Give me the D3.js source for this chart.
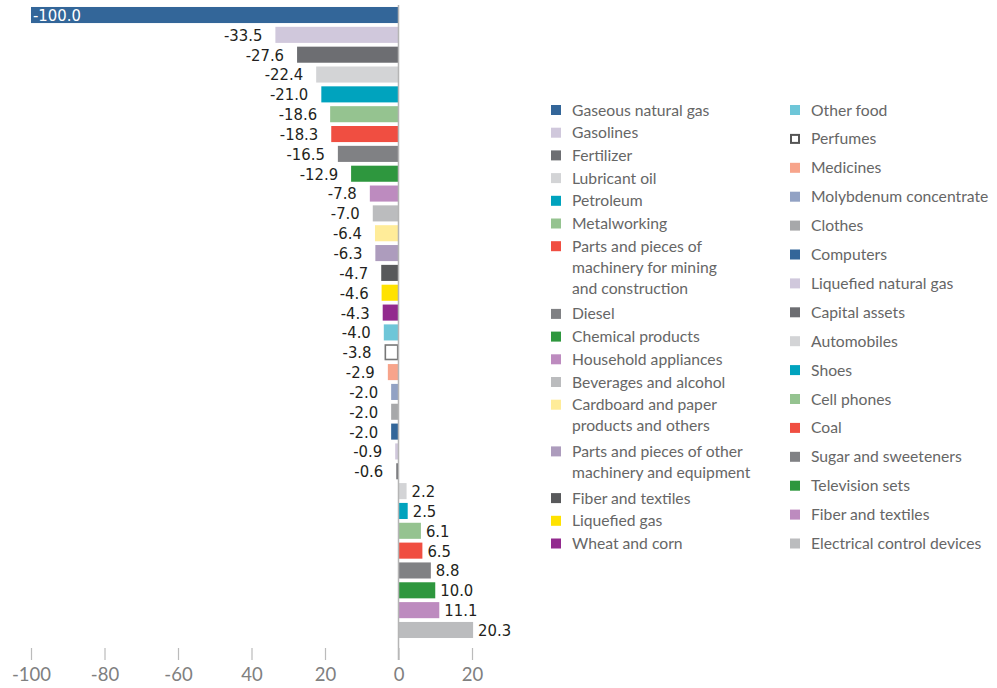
<!DOCTYPE html>
<html><head><meta charset="utf-8">
<script src="https://cdn.jsdelivr.net/npm/d3@7"></script>
<style>body{margin:0;background:#fff}</style>
</head><body>
<svg id="c" width="997" height="688"></svg>
<script>
const categories = ["Gaseous natural gas","Gasolines","Fertilizer","Lubricant oil","Petroleum","Metalworking",
 "Parts and pieces of machinery for mining and construction","Diesel","Chemical products","Household appliances",
 "Beverages and alcohol","Cardboard and paper products and others","Parts and pieces of other machinery and equipment",
 "Fiber and textiles","Liquefied gas","Wheat and corn","Other food","Perfumes","Medicines","Molybdenum concentrate",
 "Clothes","Computers","Liquefied natural gas","Capital assets","Automobiles","Shoes","Cell phones","Coal",
 "Sugar and sweeteners","Television sets","Fiber and textiles","Electrical control devices"];
const values = [-100.0,-33.5,-27.6,-22.4,-21.0,-18.6,-18.3,-16.5,-12.9,-7.8,-7.0,-6.4,-6.3,-4.7,-4.6,-4.3,-4.0,-3.8,-2.9,-2.0,-2.0,-2.0,-0.9,-0.6,2.2,2.5,6.1,6.5,8.8,10.0,11.1,20.3];
const colors = ["#336699","#d0c8dc","#6d6e72","#d3d4d6","#00a3be","#95c390","#f04e41","#808184","#2e973e","#bd8bbf",
 "#bbbcbe","#ffec99","#ad9cbd","#58595b","#ffe200","#922a8e","#6ec6d8","#ffffff","#f7a48b","#92a2c4",
 "#a7a8aa","#336699","#d0c8dc","#6d6e72","#d3d4d6","#00a3be","#95c390","#f04e41","#808184","#2e973e","#bd8bbf","#bbbcbe"];
const legendLines = [["Gaseous natural gas"],["Gasolines"],["Fertilizer"],["Lubricant oil"],["Petroleum"],["Metalworking"],
 ["Parts and pieces of","machinery for mining","and construction"],["Diesel"],["Chemical products"],["Household appliances"],
 ["Beverages and alcohol"],["Cardboard and paper","products and others"],["Parts and pieces of other","machinery and equipment"],
 ["Fiber and textiles"],["Liquefied gas"],["Wheat and corn"],["Other food"],["Perfumes"],["Medicines"],["Molybdenum concentrate"],
 ["Clothes"],["Computers"],["Liquefied natural gas"],["Capital assets"],["Automobiles"],["Shoes"],["Cell phones"],["Coal"],
 ["Sugar and sweeteners"],["Television sets"],["Fiber and textiles"],["Electrical control devices"]];
const tickValues = [-100,-80,-60,-40,-20,0,20];
const tickLabels = ["-100","-80","-60","40","20","0","20"];

const svg = d3.select("#c");
const x = d3.scaleLinear().domain([-100, 20]).range([31, 472]);
const y = d3.scaleBand().domain(d3.range(values.length)).range([5, 640]).paddingInner(0.19).paddingOuter(0.1);
const isHollow = i => colors[i] === "#ffffff";

// bars
svg.append("g").selectAll("rect").data(values).join("rect")
  .attr("x", (d, i) => x(Math.min(0, d)) + (isHollow(i) ? 0.8 : 0))
  .attr("y", (d, i) => y(i) + (isHollow(i) ? 0.8 : 0))
  .attr("width", (d, i) => Math.abs(x(d) - x(0)) - (isHollow(i) ? 1.6 : 0))
  .attr("height", (d, i) => y.bandwidth() - (isHollow(i) ? 1.6 : 0))
  .attr("fill", (d, i) => colors[i])
  .attr("stroke", (d, i) => isHollow(i) ? "#777" : "none")
  .attr("stroke-width", 1.6);

// zero line
svg.append("line").attr("x1", x(0)).attr("x2", x(0)).attr("y1", 5).attr("y2", 660)
  .attr("stroke", "#b5b5b5").attr("stroke-width", 1.5);

// value labels
svg.append("g").selectAll("text").data(values).join("text")
  .attr("x", (d, i) => i === 0 ? x(d) + 2 : (d < 0 ? x(d) - 13 : x(d) + 5))
  .attr("y", (d, i) => y(i) + y.bandwidth() / 2)
  .attr("dy", "0.36em")
  .attr("text-anchor", (d, i) => i === 0 ? "start" : (d < 0 ? "end" : "start"))
  .attr("fill", (d, i) => i === 0 ? "#ffffff" : "#231f20")
  .style("font-family", "'DejaVu Sans Condensed', 'DejaVu Sans', sans-serif")
  .style("font-size", "16.5px")
  .text(d => d.toFixed(1));

// axis
const axis = d3.axisBottom(x).tickValues(tickValues).tickSize(12).tickPadding(8)
  .tickFormat((d, i) => tickLabels[i]);
const ag = svg.append("g").attr("transform", "translate(0,648)").call(axis);
ag.select(".domain").remove();
ag.selectAll(".tick line").attr("stroke", "#bbbbbb").attr("stroke-width", 1.2);
ag.selectAll(".tick text").attr("fill", "#808080")
  .style("font-family", "Lato, 'Open Sans', sans-serif").style("font-size", "18.5px");

// legend
const leg = svg.append("g").style("font-family", "Lato, 'Open Sans', sans-serif").style("font-size", "15.7px");
const half = 16;
let yy = 110;
const pos = [];
for (let i = 0; i < half; i++) {
  pos.push([551, yy]);
  const n = legendLines[i].length;
  yy += (n - 1) * 21 + 22.7 + (n > 1 ? 3 : 0);
}
const end1 = pos[half - 1][1];
const step2 = (end1 - 110) / (half - 1);
for (let i = half; i < categories.length; i++) pos.push([790, 110 + (i - half) * step2]);

categories.forEach((c, i) => {
  const [px, py] = pos[i];
  const g = leg.append("g").attr("transform", `translate(${px},${py})`);
  if (isHollow(i)) {
    g.append("rect").attr("x", 1).attr("y", -4).attr("width", 8).attr("height", 8)
      .attr("fill", "#fff").attr("stroke", "#555").attr("stroke-width", 2);
  } else {
    g.append("rect").attr("x", 0).attr("y", -5).attr("width", 10).attr("height", 10).attr("fill", colors[i]);
  }
  const t = g.append("text").attr("x", 21).attr("fill", "#666");
  legendLines[i].forEach((ln, k) => {
    t.append("tspan").attr("x", 21).attr("y", k * 21).attr("dy", "0.35em").text(ln);
  });
});
</script>
</body></html>
